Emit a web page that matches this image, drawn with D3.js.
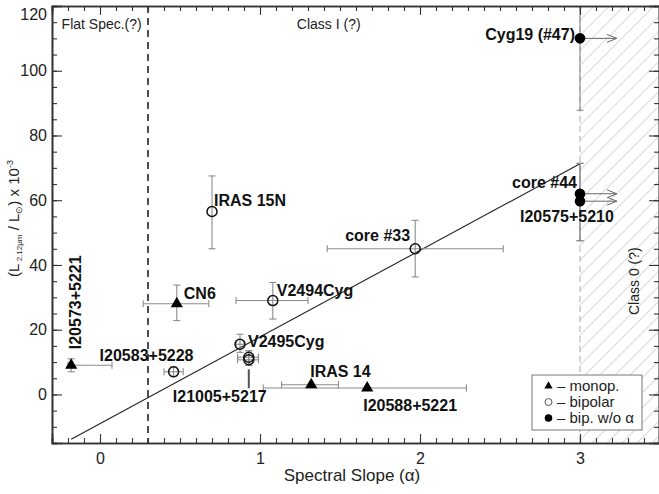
<!DOCTYPE html>
<html><head><meta charset="utf-8">
<script src="https://cdn.jsdelivr.net/npm/d3@7"></script>
<style>
body{margin:0;background:#fff;}
svg{display:block;font-family:"Liberation Sans",Arial,sans-serif;}
</style></head>
<body>
<svg id="c" width="659" height="494"></svg>
<script>
// ---- data ----
const names   = ["I20573+5221","I20583+5228","CN6","IRAS 15N","V2494Cyg","V2495Cyg","I21005+5217","I21005+5217b","IRAS 14","I20588+5221","core #33","Cyg19 (#47)","core #44","I20575+5210"];
const types   = ["mono","bip","mono","bip","bip","bip","bip","bip","mono","mono","bip","nob","nob","nob"];
const alpha   = [-0.18, 0.46, 0.48, 0.70, 1.08, 0.875, 0.93, 0.93, 1.32, 1.67, 1.97, 3.0, 3.0, 3.0];
const lum     = [9.0, 7.0, 28.0, 56.5, 29.0, 15.5, 11.5, 10.7, 3.0, 2.0, 45.0, 110.0, 62.0, 59.7];
const alphaLo = [-0.20, 0.40, 0.27, null, 0.85, 0.85, 0.86, 0.86, 1.135, 1.02, 1.42, null, null, null];
const alphaHi = [0.075, 0.52, 0.68, null, 1.30, 0.90, 0.99, 0.99, 1.49, 2.29, 2.52, null, null, null];
const lumLo   = [7.0, 5.5, 22.8, 45.0, 23.3, 13.0, 9.0, 9.0, null, null, 36.3, 87.8, 47.5, 47.5];
const lumHi   = [11.0, 8.5, 33.8, 67.5, 34.6, 18.6, 13.5, 13.5, null, null, 53.8, 132, 71.4, 71.4];
const arrowTo = [null,null,null,null,null,null,null,null,null,null,null,3.23,3.23,3.23];
const fitSlope = 26.75, fitIntercept = -9.0, fitRange = [-0.18, 3.0];
const xMajor = [0,1,2,3];
const yMajor = [0,20,40,60,80,100,120];
const flatLimit = 0.3, class0Limit = 3.0;

// ---- scales ----
const svg = d3.select("#c");
const L = 52, R = 660, T = 6, B = 443;
const x = d3.scaleLinear().domain([-0.3, 3.5]).range([L, R]);
const y = d3.scaleLinear().domain([-15, 120]).range([B, T]);

const defs = svg.append("defs");
defs.append("clipPath").attr("id","clip").append("rect")
  .attr("x",L).attr("y",T).attr("width",R-L).attr("height",B-T);
const pat = defs.append("pattern").attr("id","hatch").attr("patternUnits","userSpaceOnUse")
  .attr("width",10.6).attr("height",10.6).attr("patternTransform","rotate(45)");
pat.append("line").attr("x1",0).attr("y1",0).attr("x2",0).attr("y2",10.6)
  .attr("stroke","#b4b4b4").attr("stroke-width",1);
const mk = defs.append("marker").attr("id","arr").attr("viewBox","0 0 10 10")
  .attr("refX",10).attr("refY",5).attr("markerWidth",10).attr("markerHeight",10)
  .attr("markerUnits","userSpaceOnUse").attr("orient","auto");
mk.append("path").attr("d","M0,1 L10,5 L0,9").attr("fill","none").attr("stroke","#666").attr("stroke-width",1);

const g = svg.append("g").attr("clip-path","url(#clip)");

// hatched Class 0 region
g.append("rect").attr("x",x(class0Limit)).attr("y",T).attr("width",R-x(class0Limit)).attr("height",B-T)
  .attr("fill","url(#hatch)");
g.append("line").attr("x1",x(class0Limit)).attr("x2",x(class0Limit)).attr("y1",T).attr("y2",B)
  .attr("stroke","#aaa").attr("stroke-width",1).attr("stroke-dasharray","6,4");

// flat spectrum dashed divider
g.append("line").attr("x1",x(flatLimit)).attr("x2",x(flatLimit)).attr("y1",T).attr("y2",B)
  .attr("stroke","#222").attr("stroke-width",1.6).attr("stroke-dasharray","7,5");

// fit line
g.append("line").attr("x1",x(fitRange[0])).attr("y1",y(fitSlope*fitRange[0]+fitIntercept))
  .attr("x2",x(fitRange[1])).attr("y2",y(fitSlope*fitRange[1]+fitIntercept))
  .attr("stroke","#222").attr("stroke-width",1.1);

// error bars
const eb = g.append("g").attr("stroke","#8c8c8c").attr("stroke-width",1.1);
const cap = 3.5;
alpha.forEach((a,i)=>{
  if(alphaLo[i]!==null){
    eb.append("line").attr("x1",x(alphaLo[i])).attr("x2",x(alphaHi[i])).attr("y1",y(lum[i])).attr("y2",y(lum[i]));
    eb.append("line").attr("x1",x(alphaLo[i])).attr("x2",x(alphaLo[i])).attr("y1",y(lum[i])-cap).attr("y2",y(lum[i])+cap);
    eb.append("line").attr("x1",x(alphaHi[i])).attr("x2",x(alphaHi[i])).attr("y1",y(lum[i])-cap).attr("y2",y(lum[i])+cap);
  }
  if(lumLo[i]!==null){
    eb.append("line").attr("x1",x(a)).attr("x2",x(a)).attr("y1",y(lumLo[i])).attr("y2",y(lumHi[i]));
    eb.append("line").attr("x1",x(a)-cap).attr("x2",x(a)+cap).attr("y1",y(lumLo[i])).attr("y2",y(lumLo[i]));
    eb.append("line").attr("x1",x(a)-cap).attr("x2",x(a)+cap).attr("y1",y(lumHi[i])).attr("y2",y(lumHi[i]));
  }
  if(arrowTo[i]!==null){
    g.append("line").attr("x1",x(a)).attr("x2",x(arrowTo[i])).attr("y1",y(lum[i])).attr("y2",y(lum[i]))
      .attr("stroke","#666").attr("stroke-width",1).attr("marker-end","url(#arr)");
  }
});

// pointer for I21005+5217
g.append("line").attr("x1",x(alpha[6])).attr("x2",x(alpha[6])).attr("y1",y(lumLo[6])+4).attr("y2",y(lumLo[6])+23)
  .attr("stroke","#555").attr("stroke-width",2);

// markers
const tri = d3.symbol().type(d3.symbolTriangle).size(64);
alpha.forEach((a,i)=>{
  const cx = x(a), cy = y(lum[i]);
  if(types[i]==="mono"){
    g.append("path").attr("d",tri).attr("transform",`translate(${cx},${cy})`).attr("fill","#000");
  } else if(types[i]==="bip"){
    g.append("circle").attr("cx",cx).attr("cy",cy).attr("r",5).attr("fill","none").attr("stroke","#111").attr("stroke-width",1.5);
  } else {
    g.append("circle").attr("cx",cx).attr("cy",cy).attr("r",5.3).attr("fill","#000");
  }
});

// labels
const lab = svg.append("g").attr("font-weight","bold").attr("font-size",16).attr("fill","#111");
function label(txt, i, dx, dy, anchor, rot){
  const t = lab.append("text").text(txt).attr("text-anchor",anchor||"start");
  if(rot){ t.attr("transform",`translate(${x(alpha[i])+dx},${y(lum[i])+dy}) rotate(-90)`); }
  else t.attr("x",x(alpha[i])+dx).attr("y",y(lum[i])+dy);
}
label(names[0],0,10,-63,"middle",true);
label(names[1],1,-74,-11);
label(names[2],2,7,-5);
label(names[3],3,2,-5.5);
label(names[4],4,4,-4.5);
label(names[5],5,8,3);
label("I21005+5217",6,-76,45);
label(names[8],8,-1,-8);
label(names[9],9,-4,23);
label(names[10],10,-70,-8);
label(names[11],11,-5,2,"end");
label(names[12],12,-3,-6,"end");
label(names[13],13,-60,21);

// region labels
const rl = svg.append("g").attr("font-size",14).attr("fill","#222");
rl.append("text").attr("x",x(-0.24)).attr("y",y(113)).text("Flat Spec.(?)");
rl.append("text").attr("x",x(1.23)).attr("y",y(113)).text("Class I (?)");
rl.append("text").attr("transform",`translate(${x(3.37)},${y(35)}) rotate(-90)`).attr("text-anchor","middle").text("Class 0 (?)");

// axes
const ax = svg.append("g");
const minorX = d3.range(-3,36).map(d=>d/10);
const minorY = d3.range(-15,121,5);
function styleAxis(sel){ sel.selectAll("path.domain").attr("stroke","#333").attr("stroke-width",1.6);
  sel.selectAll(".tick line").attr("stroke","#333").attr("stroke-width",1.1);
  sel.selectAll("text").attr("font-family","'Liberation Sans',Arial,sans-serif").attr("font-size",16).attr("fill","#222"); }
ax.append("g").attr("transform",`translate(0,${B})`).call(d3.axisBottom(x).tickValues(xMajor).tickSize(-9).tickPadding(10).tickFormat(d3.format("d"))).call(styleAxis);
ax.append("g").attr("transform",`translate(0,${B})`).call(d3.axisBottom(x).tickValues(minorX).tickSize(-5).tickFormat("")).call(styleAxis);
ax.append("g").attr("transform",`translate(0,${T})`).call(d3.axisTop(x).tickValues(xMajor).tickSize(-9).tickFormat("")).call(styleAxis);
ax.append("g").attr("transform",`translate(0,${T})`).call(d3.axisTop(x).tickValues(minorX).tickSize(-5).tickFormat("")).call(styleAxis);
const yAxisG = ax.append("g").attr("transform",`translate(${L},0)`).call(d3.axisLeft(y).tickValues(yMajor).tickSize(-10).tickPadding(5).tickFormat(d3.format("d"))).call(styleAxis);
yAxisG.selectAll(".tick").filter(d=>d===120).select("text").attr("dy","0.85em");
ax.append("g").attr("transform",`translate(${L},0)`).call(d3.axisLeft(y).tickValues(minorY).tickSize(-5).tickFormat("")).call(styleAxis);
ax.append("g").attr("transform",`translate(${R-1},0)`).call(d3.axisRight(y).tickValues(yMajor).tickSize(-10).tickFormat("")).call(styleAxis);
ax.append("g").attr("transform",`translate(${R-1},0)`).call(d3.axisRight(y).tickValues(minorY).tickSize(-5).tickFormat("")).call(styleAxis);

// axis titles
svg.append("text").attr("x",(L+R)/2 - 4).attr("y",481).attr("text-anchor","middle")
  .attr("font-size",17).attr("fill","#222").text("Spectral Slope (α)");
const yt = svg.append("text").attr("transform",`translate(19,${(T+B)/2 - 6}) rotate(-90)`)
  .attr("text-anchor","middle").attr("font-size",15).attr("fill","#222");
yt.append("tspan").text("(L");
yt.append("tspan").attr("font-size",8).attr("dy",3).text(" 2.12μm");
yt.append("tspan").attr("dy",-3).text(" / L");
yt.append("tspan").attr("font-size",9).attr("dy",3).text("⊙");
yt.append("tspan").attr("dy",-3).text(") x 10");
yt.append("tspan").attr("font-size",9).attr("dy",-6).text("-3");

// legend
const lg = svg.append("g").attr("transform",`translate(${x(2.7)},${y(6)})`);
lg.append("rect").attr("width",110).attr("height",55).attr("fill","#fff").attr("stroke","#777").attr("stroke-width",1);
const legTxt = ["– monop.","– bipolar","– bip. w/o α"];
legTxt.forEach((t,i)=>{
  const cy = 11 + i*16;
  if(i===0) lg.append("path").attr("d",d3.symbol().type(d3.symbolTriangle).size(30)).attr("transform",`translate(16.5,${cy})`).attr("fill","#000");
  if(i===1) lg.append("circle").attr("cx",16.5).attr("cy",cy).attr("r",3.5).attr("fill","none").attr("stroke","#555");
  if(i===2) lg.append("circle").attr("cx",16.5).attr("cy",cy).attr("r",3.8).attr("fill","#000");
  lg.append("text").attr("x",25).attr("y",cy+5).attr("font-size",15).attr("fill","#222").text(t);
});
</script>
</body></html>
